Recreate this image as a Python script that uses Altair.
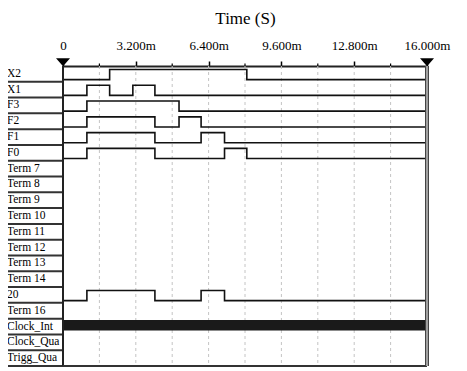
import altair as alt
import pandas as pd

# ---- data ----
rows = ["X2", "X1", "F3", "F2", "F1", "F0", "Term 7", "Term 8", "Term 9",
        "Term 10", "Term 11", "Term 12", "Term 13", "Term 14", "20", "Term 16",
        "Clock_Int", "Clock_Qua", "Trigg_Qua"]

t_end = 16.0  # ms
# transition times (ms); every signal starts low at t = 0
edges_X2 = [2.05, 8.08]
edges_X1 = [1.05, 2.05, 3.07, 4.04]
edges_F3 = [1.05, 5.10]
edges_F2 = [1.05, 4.04, 5.10, 6.07]
edges_F1 = [1.05, 4.04, 6.07, 7.10]
edges_F0 = [1.05, 4.04, 7.10, 8.08]
edges_20 = [1.05, 4.04, 6.07, 7.10]

signals = {"X2": edges_X2, "X1": edges_X1, "F3": edges_F3, "F2": edges_F2,
           "F1": edges_F1, "F0": edges_F0, "20": edges_20}

tick_values = [0, 3.2, 6.4, 9.6, 12.8, 16.0]
minor_ticks = [1.6, 4.8, 8.0, 11.2, 14.4]
grid_values = [1.6, 3.2, 4.8, 6.4, 8.0, 9.6, 11.2, 12.8, 14.4]
clock_row = "Clock_Int"

# ---- build tables ----
n = len(rows)
recs = []
for name, edges in signals.items():
    idx = rows.index(name)
    level = 0
    recs.append({"signal": name, "row": idx, "t": 0.0, "level": level})
    for e in edges:
        level = 1 - level
        recs.append({"signal": name, "row": idx, "t": e, "level": level})
    recs.append({"signal": name, "row": idx, "t": t_end, "level": level})
wave = pd.DataFrame(recs)

labels = pd.DataFrame({"name": rows, "row": list(range(n))})
seps = pd.DataFrame({"b": list(range(1, n + 1))})
grid = pd.DataFrame({"t": grid_values, "r0": 0, "r1": n})
minor = pd.DataFrame({"t": minor_ticks})
frame = pd.DataFrame({"t0": [0.0], "t1": [t_end], "r0": [0], "r1": [n]})
ends = pd.DataFrame({"t": [0.0, t_end]})
clock = pd.DataFrame({"t0": [0.0], "t1": [t_end], "row": [rows.index(clock_row)]})

FONT = "Liberation Serif"
xs = alt.Scale(domain=[0, t_end], nice=False, zero=False)
ys = alt.Scale(domain=[0, n], reverse=True, nice=False, zero=False)

x_axis = alt.Axis(
    orient="top", values=tick_values,
    labelExpr="datum.value == 0 ? '0' : format(datum.value, '.3f') + 'm'",
    title="Time (S)", titleFont=FONT, titleFontSize=17, titleFontWeight="normal",
    titleColor="black", titlePadding=12,
    labelFont=FONT, labelFontSize=13, labelColor="black", labelPadding=9,
    labelFlush=False, labelOverlap=False,
    tickSize=5, tickColor="black", tickWidth=1.5,
    domainColor="#222", domainWidth=2, grid=False,
)

gridl = alt.Chart(grid).mark_rule(color="#c4c4c4", strokeWidth=1, strokeDash=[3, 3]).encode(
    x=alt.X("t:Q", scale=xs, axis=x_axis),
    y=alt.Y("r0:Q", scale=ys, axis=None), y2="r1:Q",
)

minor_t = alt.Chart(minor).mark_rule(color="black", strokeWidth=1.2).encode(
    x=alt.X("t:Q"), y=alt.value(-2.5), y2=alt.value(0),
)

lines = alt.Chart(wave).transform_calculate(
    yv="datum.row + (datum.level == 1 ? 0.22 : 0.86)"
).mark_line(interpolate="step-after", color="#111", strokeWidth=1.6).encode(
    x=alt.X("t:Q"),
    y=alt.Y("yv:Q"),
    detail="signal:N",
)

clock_bar = alt.Chart(clock).transform_calculate(
    ya="datum.row + 0.08", yb="datum.row + 0.75"
).mark_rect(color="#1a1a1a").encode(
    x=alt.X("t0:Q"), x2="t1:Q",
    y=alt.Y("ya:Q"), y2="yb:Q",
)

text = alt.Chart(labels).transform_calculate(yc="datum.row + 0.5").mark_text(
    align="left", baseline="middle", font=FONT, fontSize=11.5, color="black"
).encode(
    x=alt.value(-56), y=alt.Y("yc:Q"), text="name:N",
)

sep = alt.Chart(seps).mark_rule(color="#333", strokeWidth=2).encode(
    y=alt.Y("b:Q"), x=alt.value(-61), x2=alt.value(0),
)

left = alt.Chart(frame).mark_rule(color="#222", strokeWidth=2).encode(
    x=alt.X("t0:Q"), y=alt.Y("r0:Q"), y2="r1:Q",
)
bottom = alt.Chart(frame).mark_rule(color="#333", strokeWidth=2).encode(
    x=alt.X("t0:Q"), x2="t1:Q", y=alt.Y("r1:Q"),
)
right_dark = alt.Chart(frame).mark_rule(color="#444", strokeWidth=4).encode(
    x=alt.X("t1:Q"), y=alt.Y("r0:Q"), y2="r1:Q",
)
right_light = alt.Chart(frame).mark_rule(color="#b8b8b8", strokeWidth=1.6).encode(
    x=alt.X("t1:Q"), y=alt.Y("r0:Q"), y2="r1:Q",
)

markers = alt.Chart(ends).mark_point(
    shape="M-1,-0.55L1,-0.55L0,0.6Z", size=196, filled=True, color="black", opacity=1
).encode(
    x=alt.X("t:Q"), y=alt.value(-4),
)

chart = alt.layer(
    gridl, minor_t, lines, clock_bar, text, sep, left, bottom, right_dark, right_light, markers
).properties(
    width=364, height=300,
    autosize=alt.AutoSizeParams(type="none"),
    padding={"left": 55, "top": 58, "right": 30, "bottom": 2},
    background="white",
).configure_view(stroke=None)

chart.save("out.html", embed_options={"renderer": "svg", "actions": False})
